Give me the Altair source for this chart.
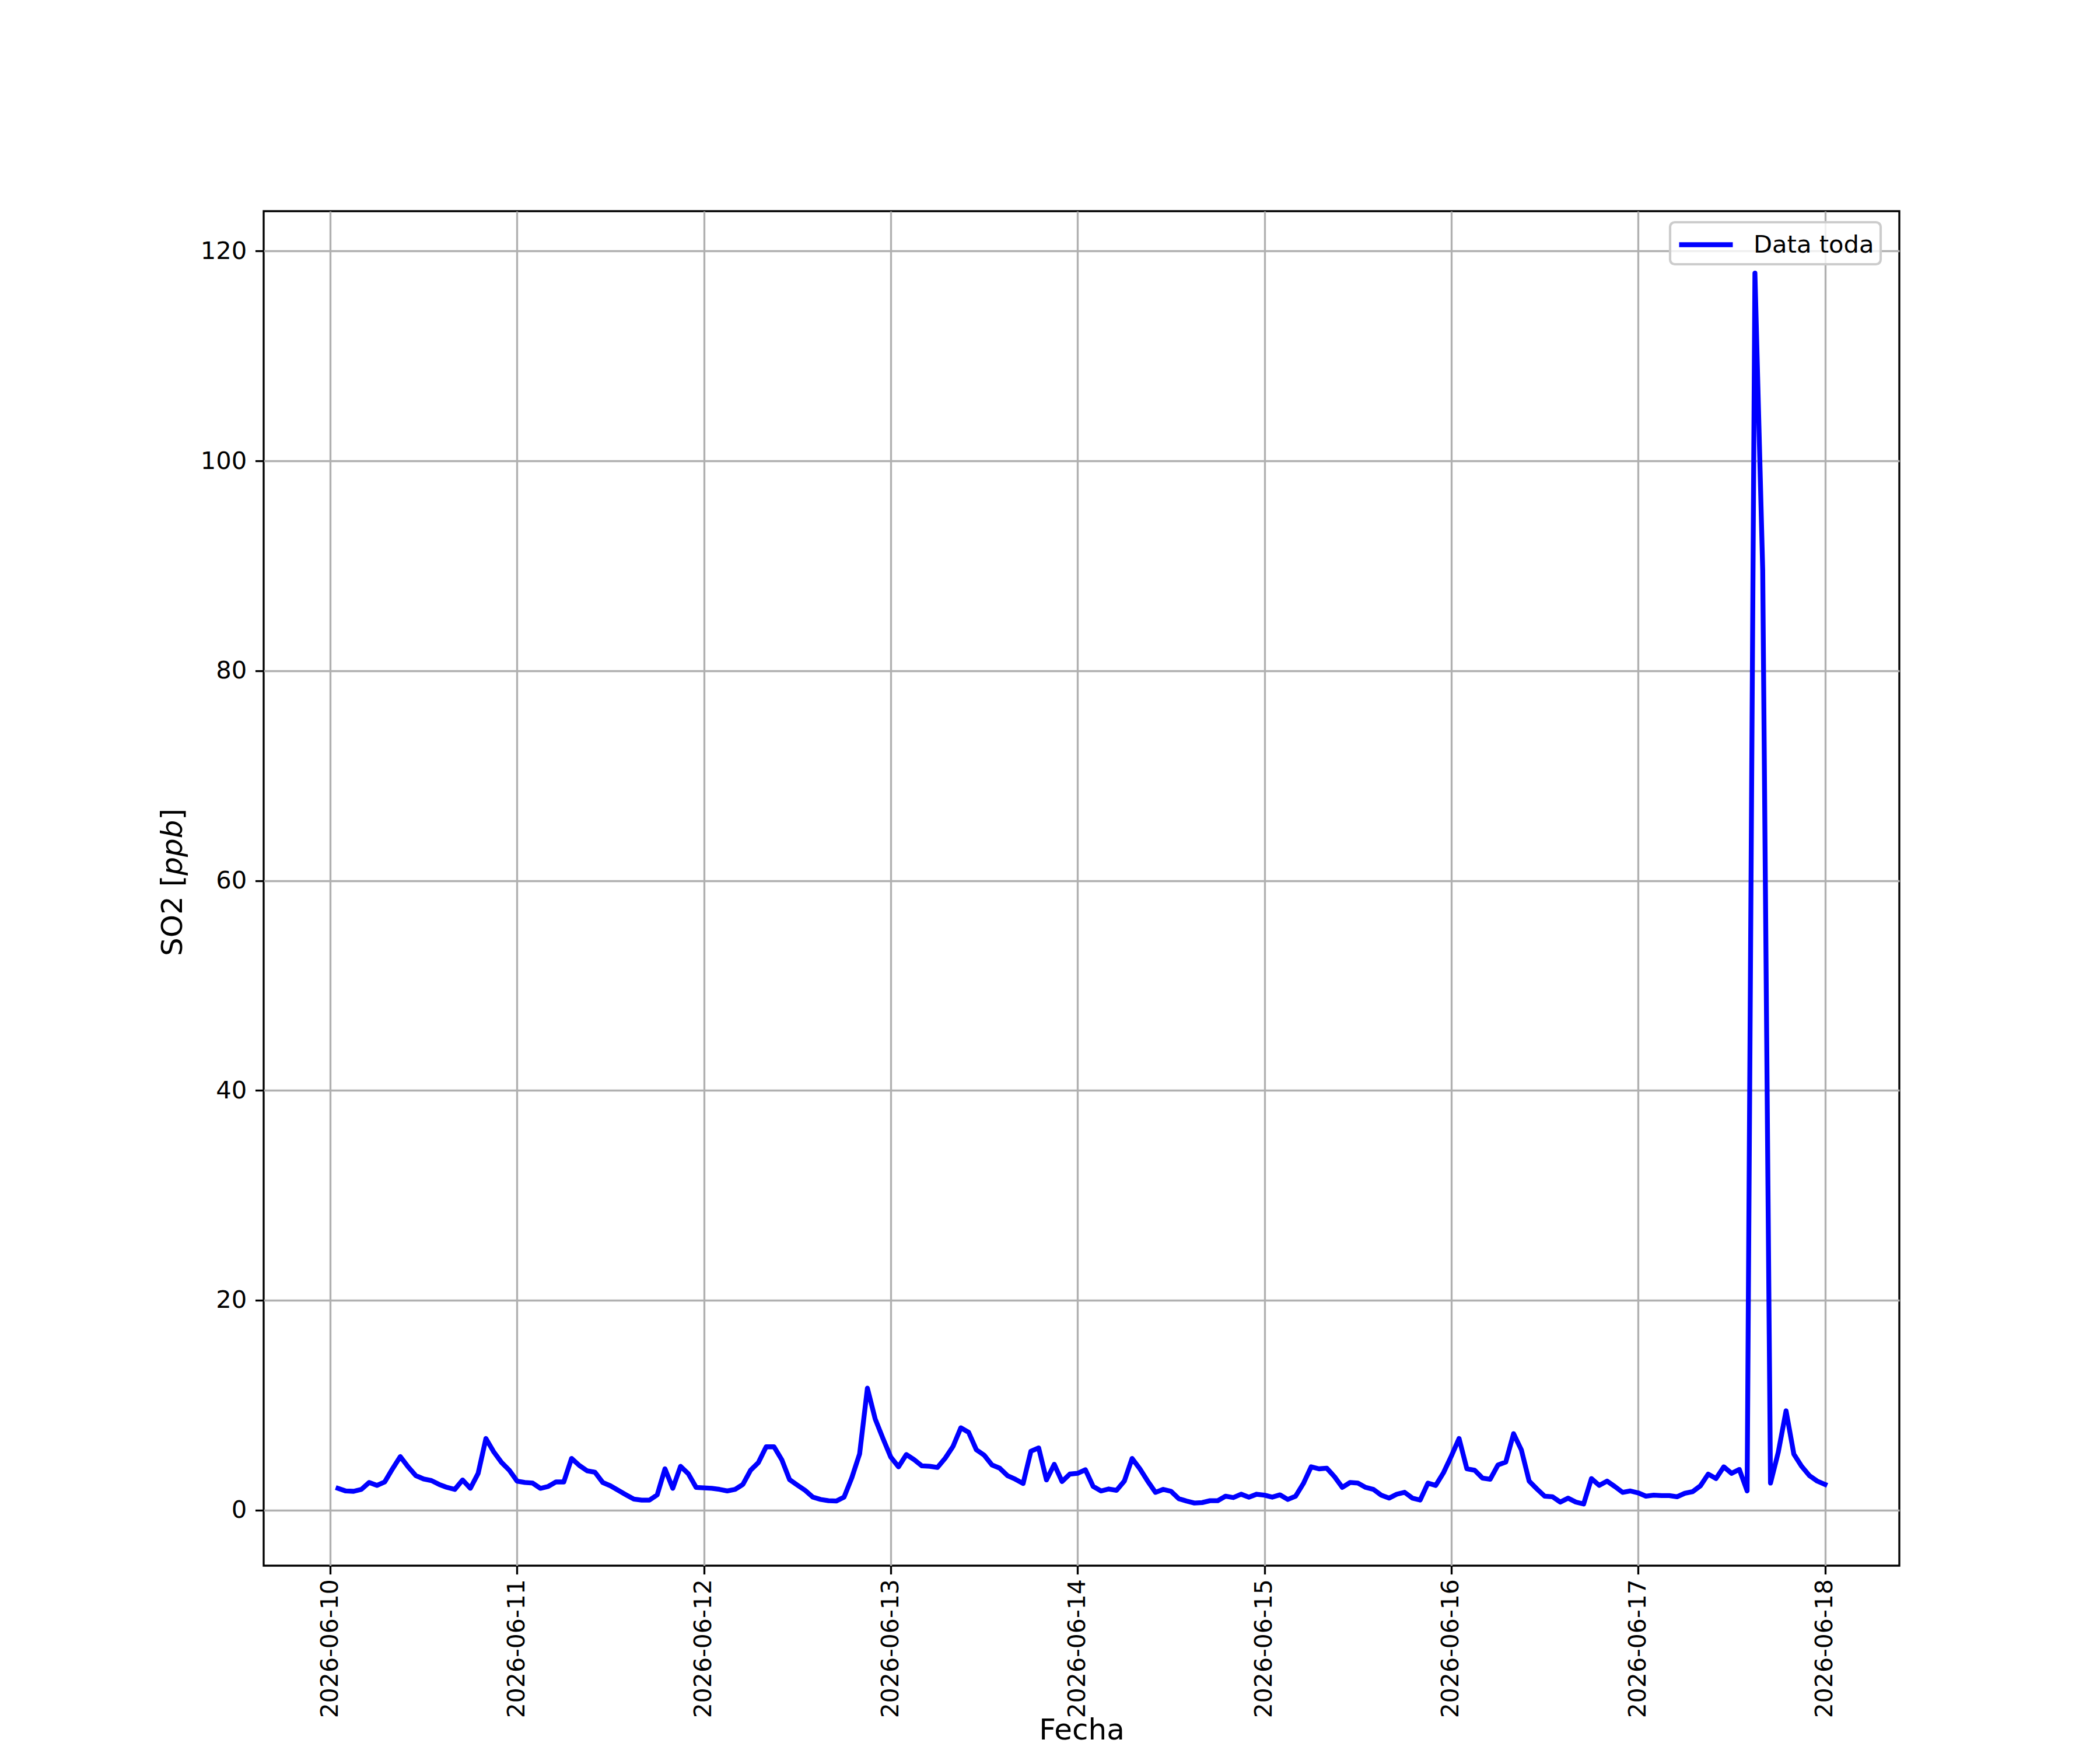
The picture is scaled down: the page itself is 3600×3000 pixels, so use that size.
import altair as alt
import pandas as pd

# hourly SO2 readings, 2026-06-10 01:00 .. 2026-06-18 00:00
dia_10 = [2.07, 1.82, 1.79, 1.97, 2.63, 2.35, 2.68, 3.93, 5.10, 4.12, 3.28, 2.96,
          2.81, 2.44, 2.16, 1.97, 2.87, 2.07, 3.50, 6.82, 5.55, 4.54, 3.80, 2.76]
dia_11 = [2.63, 2.57, 2.07, 2.25, 2.68, 2.68, 4.92, 4.25, 3.74, 3.61, 2.63, 2.31,
          1.88, 1.45, 1.04, 0.95, 0.95, 1.45, 3.93, 2.07, 4.17, 3.46, 2.16, 2.12]
dia_12 = [2.07, 1.97, 1.82, 1.97, 2.44, 3.80, 4.53, 6.03, 6.03, 4.80, 2.90, 2.38,
          1.88, 1.23, 1.01, 0.89, 0.86, 1.23, 3.09, 5.36, 11.62, 8.68, 6.82, 5.05]
dia_13 = [4.12, 5.29, 4.80, 4.21, 4.17, 4.06, 4.95, 6.07, 7.84, 7.41, 5.74, 5.23,
          4.30, 3.99, 3.28, 2.94, 2.53, 5.61, 5.92, 2.87, 4.36, 2.72, 3.43, 3.50]
dia_14 = [3.84, 2.25, 1.82, 2.01, 1.88, 2.76, 4.92, 3.93, 2.76, 1.69, 1.97, 1.79,
          1.08, 0.86, 0.67, 0.71, 0.89, 0.89, 1.32, 1.19, 1.51, 1.23, 1.51, 1.42]
dia_15 = [1.23, 1.45, 1.01, 1.32, 2.53, 4.12, 3.93, 3.99, 3.18, 2.16, 2.63, 2.57,
          2.16, 1.97, 1.42, 1.14, 1.51, 1.69, 1.14, 0.95, 2.57, 2.35, 3.56, 5.14]
dia_16 = [6.82, 3.93, 3.80, 3.05, 2.94, 4.30, 4.58, 7.28, 5.74, 2.76, 2.01, 1.32,
          1.27, 0.76, 1.14, 0.76, 0.58, 3.00, 2.35, 2.76, 2.25, 1.69, 1.82, 1.64]
dia_17 = [1.32, 1.42, 1.38, 1.38, 1.27, 1.60, 1.75, 2.31, 3.43, 3.00, 4.12, 3.50,
          3.87, 1.82, 117.9, 89.6, 2.57, 5.51, 9.46, 5.33, 4.17, 3.28, 2.76, 2.44]

tick_days = ["2026-06-10", "2026-06-11", "2026-06-12", "2026-06-13",
             "2026-06-14", "2026-06-15", "2026-06-16", "2026-06-17", "2026-06-18"]
y_ticks = [0, 20, 40, 60, 80, 100, 120]

# y label "SO2 [$ppb$]" split so the unit can be italic
y_title_parts = ["SO2 [", "ppb", "]"]
y_title_styles = ["normal", "italic", "normal"]

so2 = dia_10 + dia_11 + dia_12 + dia_13 + dia_14 + dia_15 + dia_16 + dia_17
fechas = pd.date_range("2026-06-10 01:00", periods=len(so2), freq="h")

frame = pd.DataFrame({
    "fecha": fechas.strftime("%Y-%m-%dT%H:%M:%S"),
    "so2": so2,
    "serie": "Data toda",
})

PT = 300 / 72  # matplotlib points -> pixels at 300 dpi
FONT = "DejaVu Sans"
W, H = 2804, 2322
LW = 2 * PT
TITLE_SIZE = 12 * PT

# start of each y-title piece along the rotated baseline (DejaVu advance widths)
_advance = {"S": 0.635, "O": 0.787, "2": 0.636, " ": 0.318, "[": 0.390,
            "p": 0.635, "b": 0.635, "]": 0.390}
_y0 = 1277
y_title_pos = []
for part in y_title_parts:
    y_title_pos.append(_y0)
    _y0 -= sum(_advance[c] for c in part) * TITLE_SIZE


def dt(day, hours=0, minutes=0):
    y, m, d = (int(p) for p in day.split("-"))
    return alt.DateTime(year=y, month=m, date=d, hours=hours, minutes=minutes)


x_axis = alt.Axis(
    values=[dt(d) for d in tick_days],
    format="%Y-%m-%d",
    labelAngle=270,
    labelLimit=0,
    labelFontSize=41,
    labelPadding=8,
    tickSize=3.5 * PT,
    title="Fecha",
    titleFontSize=TITLE_SIZE,
    titleFontWeight="normal",
    titleX=W / 2,
    titleY=297,
    titleAlign="center",
    titleBaseline="alphabetic",
)

y_axis = alt.Axis(
    values=y_ticks,
    format="d",
    labelFontSize=10 * PT,
    labelPadding=3.5 * PT,
    tickSize=3.5 * PT,
    title=None,
)

legend = alt.Legend(
    title=None,
    orient="none",
    legendX=2411,
    legendY=19,
    symbolType="M-2,0H2",
    symbolSize=46 * 46,
    symbolOffset=23,
    symbolStrokeWidth=LW,
    labelFontSize=10 * PT,
    labelOffset=54,
    labelLimit=0,
    padding=11,
    fillColor="rgba(255,255,255,0.8)",
    strokeColor="#cccccc",
    cornerRadius=8,
)

line = (
    alt.Chart(frame)
    .mark_line(strokeWidth=LW, strokeJoin="round", strokeCap="square")
    .encode(
        x=alt.X(
            "fecha:T",
            scale=alt.Scale(domain=[dt("2026-06-09", 15, 27), dt("2026-06-18", 9, 33)], nice=False),
            axis=x_axis,
        ),
        y=alt.Y("so2:Q", scale=alt.Scale(domain=[-5.3, 123.8], nice=False, zero=False), axis=y_axis),
        color=alt.Color(
            "serie:N",
            scale=alt.Scale(domain=["Data toda"], range=["#0000ff"]),
            legend=legend,
        ),
    )
)

title_layers = []
for part, style, pos in zip(y_title_parts, y_title_styles, y_title_pos):
    title_layers.append(
        alt.Chart(pd.DataFrame({"t": [part]}))
        .mark_text(
            angle=270,
            align="left",
            baseline="alphabetic",
            fontSize=TITLE_SIZE,
            fontStyle=style,
            font=FONT,
            color="black",
        )
        .encode(text="t:N", x=alt.value(-140), y=alt.value(pos))
    )

chart = (
    alt.layer(line, *title_layers)
    .properties(
        width=W,
        height=H,
        autosize=alt.AutoSizeParams(type="none"),
        padding={"left": 444, "top": 354, "right": 336, "bottom": 308},
    )
    .configure(font=FONT)
    .configure_view(stroke="black", strokeWidth=0.8 * PT)
    .configure_axis(
        domain=False,
        grid=True,
        gridColor="#b0b0b0",
        gridWidth=0.8 * PT,
        tickColor="black",
        tickWidth=0.8 * PT,
        labelColor="black",
        titleColor="black",
        labelFont=FONT,
        titleFont=FONT,
    )
    .configure_legend(labelFont=FONT, labelColor="black", strokeWidth=1.0 * PT)
)

chart.save("out.html", embed_options={"renderer": "svg", "actions": False})
